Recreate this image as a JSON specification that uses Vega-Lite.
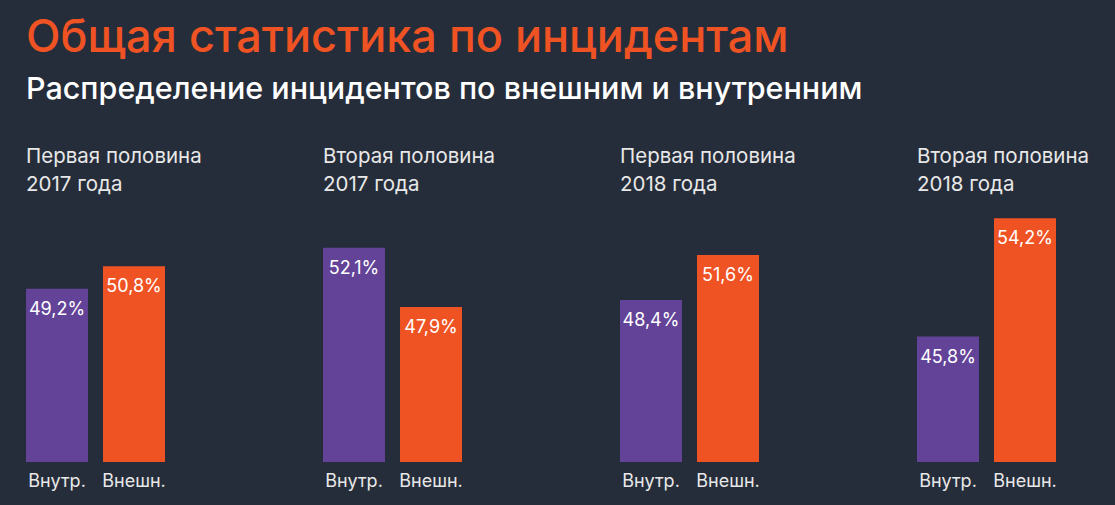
{
  "$schema": "https://vega.github.io/schema/vega-lite/v6.json",
  "background": "#262d3a",
  "padding": {"left": 26, "top": 16, "right": 27, "bottom": 18},
  "title": {
    "text": "Общая статистика по инцидентам",
    "subtitle": "Распределение инцидентов по внешним и внутренним",
    "anchor": "start",
    "color": "#f05323",
    "fontSize": 45,
    "font": "Inter",
    "fontWeight": 500,
    "subtitleColor": "#ffffff",
    "subtitleFontSize": 30.5,
    "subtitleFont": "Inter",
    "subtitleFontWeight": 500,
    "subtitlePadding": 14,
    "offset": 41
  },
  "data": {
    "values": [
      {"period": "Первая половина|2017 года", "type": "Внутр.", "value": 49.2, "label": "49,2%"},
      {"period": "Первая половина|2017 года", "type": "Внешн.", "value": 50.8, "label": "50,8%"},
      {"period": "Вторая половина|2017 года", "type": "Внутр.", "value": 52.1, "label": "52,1%"},
      {"period": "Вторая половина|2017 года", "type": "Внешн.", "value": 47.9, "label": "47,9%"},
      {"period": "Первая половина|2018 года", "type": "Внутр.", "value": 48.4, "label": "48,4%"},
      {"period": "Первая половина|2018 года", "type": "Внешн.", "value": 51.6, "label": "51,6%"},
      {"period": "Вторая половина|2018 года", "type": "Внутр.", "value": 45.8, "label": "45,8%"},
      {"period": "Вторая половина|2018 года", "type": "Внешн.", "value": 54.2, "label": "54,2%"}
    ]
  },
  "facet": {
    "column": {
      "field": "period",
      "type": "nominal",
      "sort": ["Первая половина|2017 года", "Вторая половина|2017 года", "Первая половина|2018 года", "Вторая половина|2018 года"],
      "title": null,
      "header": {
        "labelExpr": "split(datum.value, '|')",
        "labelAlign": "left",
        "labelAnchor": "start",
        "labelFontSize": 20.5,
        "labelColor": "#e8e8e8",
        "labelFont": "Inter",
        "labelLineHeight": 28,
        "labelPadding": 12
      }
    }
  },
  "spacing": {"column": 158},
  "spec": {
    "width": 139,
    "height": 255,
    "encoding": {
      "x": {
        "field": "type",
        "type": "nominal",
        "sort": ["Внутр.", "Внешн."],
        "scale": {"paddingInner": 0.195, "paddingOuter": 0},
        "axis": {
          "title": null,
          "domain": false,
          "ticks": false,
          "labelAngle": 0,
          "labelFontSize": 18,
          "labelFont": "Inter",
          "labelColor": "#e8e8e8",
          "labelPadding": 10
        }
      },
      "y": {
        "field": "value",
        "type": "quantitative",
        "scale": {"domain": [36.9, 55], "zero": false},
        "axis": null
      }
    },
    "layer": [
      {
        "mark": {"type": "bar"},
        "encoding": {
          "y2": {"datum": 36.9},
          "color": {
            "field": "type",
            "type": "nominal",
            "scale": {"domain": ["Внутр.", "Внешн."], "range": ["#634398", "#f05323"]},
            "legend": null
          }
        }
      },
      {
        "mark": {"type": "text", "dy": 21, "color": "#ffffff", "fontSize": 18, "font": "Inter", "baseline": "middle"},
        "encoding": {"text": {"field": "label"}}
      }
    ]
  },
  "config": {"view": {"stroke": null}}
}
